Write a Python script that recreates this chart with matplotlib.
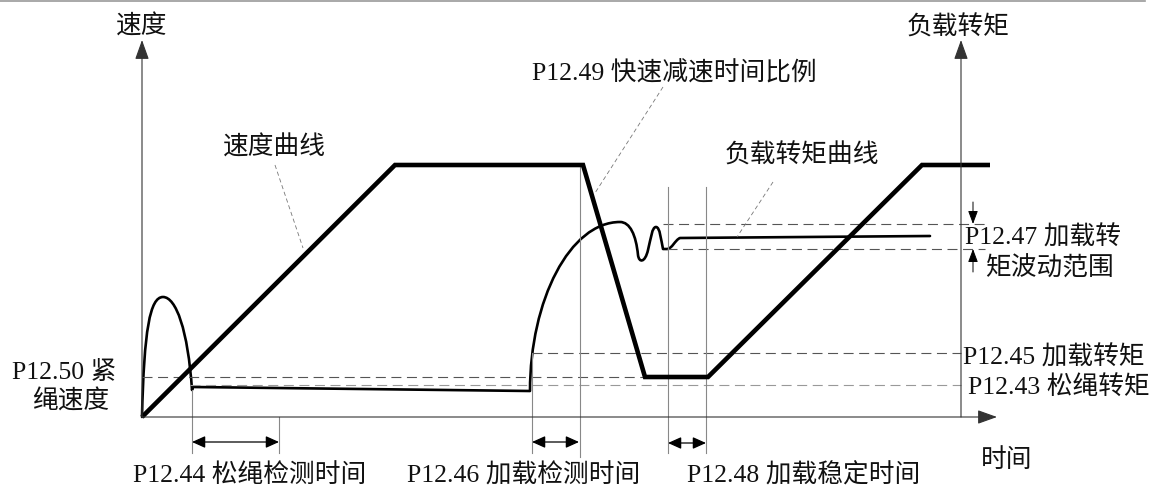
import matplotlib.pyplot as plt
from matplotlib.path import Path
from matplotlib.patches import PathPatch

plt.rcParams['font.family'] = ['Liberation Serif', 'Noto Sans CJK SC']

W, H = 1168, 486

# diagram frame, in pixel units (y grows downward)
origin = (142, 417)
right_axis_x = 961
x_axis_end = 997
y_axis_top = 40

# speed curve (thick polyline)
speed_x = [142, 395, 583, 645, 708, 922, 990]
speed_y = [417, 165, 165, 377, 377, 165, 165]

# load torque curve: (code, point) with M = move, L = line, C = cubic bezier point
torque = [
    ('M', (142, 417)),
    ('C', (144, 330)), ('C', (150, 297)), ('C', (163, 297)),
    ('C', (176, 297)), ('C', (188, 330)), ('C', (192, 390)),
    ('L', (193, 387)),
    ('L', (530, 391)),
    ('C', (530, 300)), ('C', (570, 222)), ('C', (620, 222)),
    ('C', (630, 222)), ('C', (636, 235)), ('C', (638, 255)),
    ('C', (639, 263)), ('C', (645, 263)), ('C', (648, 250)),
    ('C', (651, 238)), ('C', (652, 227)), ('C', (656, 227)),
    ('C', (660, 227)), ('C', (661, 240)), ('C', (663, 249)),
    ('L', (667, 249)),
    ('C', (672, 249)), ('C', (675, 240)), ('C', (680, 238)),
    ('L', (930, 236)),
]

# dashed reference levels: y, x start, x end, colour
levels_y = [377, 385, 353, 224, 249]
levels_x0 = [142, 190, 532, 663, 667]
levels_x1 = [645, 961, 961, 985, 985]
levels_c = ['#555555', '#999999', '#555555', '#555555', '#555555']

# vertical marker lines: x, y top, y bottom
marks_x = [192, 279, 532, 580, 668, 706]
marks_y0 = [390, 417, 353, 165, 187, 187]
marks_y1 = [453, 453, 453, 457, 453, 453]

# double arrows for time intervals
spans = [(192, 279, 442), (532, 579, 442), (668, 706, 443)]

# leader lines from labels to curves
leaders = [((275, 165), (303, 248)),
           ((663, 87), (595, 193)),
           ((773, 182), (737, 237))]

labels = [
    ('速度', 142, 27, 'center'),
    ('负载转矩', 958, 27, 'center'),
    ('速度曲线', 223, 148, 'left'),
    ('P12.49 快速减速时间比例', 532, 73, 'left'),
    ('负载转矩曲线', 725, 155, 'left'),
    ('P12.47 加载转', 965, 237, 'left'),
    ('矩波动范围', 985, 268, 'left'),
    ('P12.45 加载转矩', 963, 357, 'left'),
    ('P12.43 松绳转矩', 968, 387, 'left'),
    ('P12.50 紧', 12, 372, 'left'),
    ('绳速度', 32, 402, 'left'),
    ('P12.44 松绳检测时间', 133, 475, 'left'),
    ('P12.46 加载检测时间', 407, 475, 'left'),
    ('P12.48 加载稳定时间', 687, 475, 'left'),
    ('时间', 1007, 460, 'center'),
]

fig = plt.figure(figsize=(W / 100, H / 100), dpi=100)
ax = fig.add_axes([0, 0, 1, 1])
ax.set_xlim(0, W)
ax.set_ylim(H, 0)
ax.axis('off')

axis_c = '#333333'

# top border
ax.plot([0, 1145], [1, 1], color='#999999', lw=1.2)

# axes with arrows
def arrow(tail, tip, style, lw=0.8, color=axis_c):
    ax.annotate('', xy=tip, xytext=tail,
                arrowprops=dict(arrowstyle=style, lw=lw, color=color,
                                shrinkA=0, shrinkB=0, mutation_scale=10))

big = '-|>,head_length=1.2,head_width=0.43'
arrow(origin, (origin[0], y_axis_top), big)
arrow((right_axis_x, origin[1]), (right_axis_x, y_axis_top), big)
arrow(origin, (x_axis_end, origin[1]), big)

# dashed levels
for y, x0, x1, c in zip(levels_y, levels_x0, levels_x1, levels_c):
    ax.plot([x0, x1], [y, y], color=c, lw=0.8, dashes=(9, 5))

# vertical markers
for x, y0, y1 in zip(marks_x, marks_y0, marks_y1):
    ax.plot([x, x], [y0, y1], color='#888888', lw=0.8)

# interval arrows
dbl = '<|-|>,head_length=0.8,head_width=0.36'
for x0, x1, y in spans:
    arrow((x0, y), (x1, y), dbl, lw=0.9, color='black')

# torque ripple arrows
small = '-|>,head_length=0.8,head_width=0.3'
arrow((973, 202), (973, 224), small, lw=0.7, color='black')
arrow((973, 272), (973, 249), small, lw=0.7, color='black')

# leaders
for (x0, y0), (x1, y1) in leaders:
    ax.plot([x0, x1], [y0, y1], color='#777777', lw=0.6, dashes=(5, 3.5))

# torque curve
codes_map = {'M': Path.MOVETO, 'L': Path.LINETO, 'C': Path.CURVE4}
verts = [p for _, p in torque]
codes = [codes_map[c] for c, _ in torque]
ax.add_patch(PathPatch(Path(verts, codes), fill=False, lw=1.9,
                       edgecolor='black', capstyle='round', joinstyle='round'))

# speed curve
ax.plot(speed_x, speed_y, color='black', lw=3.3, solid_joinstyle='miter',
        solid_capstyle='butt')

for s, x, y, ha in labels:
    ax.text(x, y, s, ha=ha, va='center', fontsize=18.5, color='#111111')

fig.savefig('out.png', dpi=100)
